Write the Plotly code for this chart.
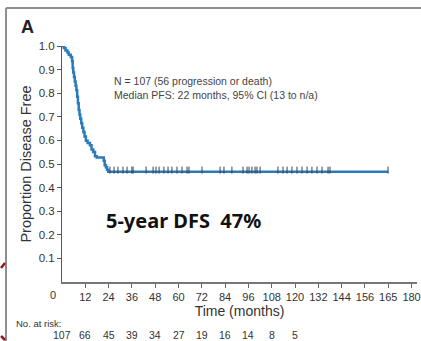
import plotly.graph_objects as go

# Kaplan-Meier curve (months, proportion disease free)
km_time = [0, 1.0, 1.8, 2.8, 3.5, 4.5, 5.2, 5.5, 5.8, 6.2, 6.6, 7.0, 7.4, 7.8, 8.2, 8.6, 9.0, 9.4,
           9.9, 10.4, 11.0, 11.6, 12.3, 13.2, 14.4, 15.2, 16.1, 17.0, 17.9, 21.5, 22.0, 22.6, 23.2,
           23.8, 168]
km_surv = [1.0, 0.991, 0.981, 0.972, 0.963, 0.953, 0.935, 0.907, 0.888, 0.869, 0.850, 0.832,
           0.813, 0.785, 0.757, 0.729, 0.710, 0.692, 0.673, 0.654, 0.636, 0.617, 0.598, 0.589,
           0.579, 0.561, 0.551, 0.533, 0.528, 0.514, 0.495, 0.486, 0.476, 0.467, 0.467]

censor_time = [24.7, 26.8, 28.8, 31.4, 33.5, 36.0, 36.6, 43.3, 46.9, 48.4, 50.0, 52.5, 54.6, 56.6,
               59.2, 61.8, 64.4, 65.4, 72.1, 81.4, 83.4, 87.5, 93.2, 95.3, 96.3, 97.8, 99.4, 100.4,
               102.0, 111.2, 113.8, 115.9, 118.4, 121.0, 123.6, 126.2, 128.7, 131.3, 133.9, 137.0,
               138.0, 167.9]
censor_surv = 0.467

x_tick_vals = [12, 24, 36, 48, 60, 72, 84, 96, 108, 120, 132, 144, 156, 168, 180]
x_tick_text = ["12", "24", "36", "48", "60", "72", "84", "96", "108", "120", "132", "144",
               "156", "165", "180"]
y_tick_vals = [0.1, 0.2, 0.3, 0.4, 0.5, 0.6, 0.7, 0.8, 0.9, 1.0]

risk_months = [0, 12, 24, 36, 48, 60, 72, 84, 96, 108, 120]
risk_counts = [107, 66, 45, 39, 34, 27, 19, 16, 14, 8, 5]

narrow = "Liberation Sans Narrow, Arial Narrow, Liberation Sans, Arial"
blue = "#2b7bba"

# plot area in pixels
L, R, T, B = 62, 417, 46, 282
PW, PH = R - L, B - T


def px(xp):
    return (xp - L) / PW


def py(yp):
    return (B - yp) / PH


fig = go.Figure()
fig.add_trace(go.Scatter(x=km_time, y=km_surv, mode="lines", line=dict(color=blue, width=2.5, shape="hv"),
                         hoverinfo="skip", showlegend=False, cliponaxis=False))
fig.add_trace(go.Scatter(x=censor_time, y=[censor_surv + 0.007] * len(censor_time), mode="markers",
                         marker=dict(symbol="line-ns", size=5, line=dict(color="#334455", width=1)),
                         hoverinfo="skip", showlegend=False, cliponaxis=False))

fig.update_layout(
    width=421, height=341,
    margin=dict(l=L, r=421 - R, t=T, b=341 - B, autoexpand=False),
    paper_bgcolor="white", plot_bgcolor="white",
    font=dict(family=narrow, color="#333333"),
    xaxis=dict(range=[0, 182.8], tickvals=x_tick_vals, ticktext=x_tick_text, ticks="outside",
               ticklen=4, tickcolor="#666", showline=True, linecolor="#777", linewidth=1.5,
               showgrid=False, zeroline=False, tickfont=dict(size=11, family=narrow, color="#333"),
               title=dict(text="Time (months)", font=dict(size=14, family=narrow, color="#333"),
                          standoff=4)),
    yaxis=dict(range=[0, 1.0], tickvals=y_tick_vals, tickformat=".1f", ticks="outside",
               ticklen=4, tickcolor="#555", showline=True, linecolor="#555", linewidth=1,
               showgrid=False, zeroline=False, tickfont=dict(size=11.5, family=narrow, color="#333"),
               title=dict(text="Proportion Disease Free",
                          font=dict(size=14.5, family=narrow, color="#333"), standoff=3)),
)

annotations = [
    dict(x=0, y=-0.02, xref="x", yref="paper", text="0", showarrow=False, xanchor="center",
         yanchor="top", xshift=-9, font=dict(size=11, family=narrow, color="#333")),
    dict(x=px(27), y=py(27), xref="paper", yref="paper", text="<b>A</b>", showarrow=False,
         xanchor="center", yanchor="middle", font=dict(size=18, family="Liberation Sans, Arial", color="#222")),
    dict(x=px(112), y=py(88), xref="paper", yref="paper", xanchor="left", yanchor="middle",
         showarrow=False, align="left",
         text="N = 107 (56 progression or death)<br>Median PFS: 22 months, 95% CI (13 to n/a)",
         font=dict(size=10.5, family="Liberation Sans, Arial", color="#444")),
    dict(x=px(104), y=py(220), xref="paper", yref="paper", xanchor="left", yanchor="middle",
         showarrow=False, text="<b>5-year DFS  47%</b>",
         font=dict(size=20, family="Noto Sans, Open Sans", color="#111")),
    dict(x=px(14), y=py(323), xref="paper", yref="paper", xanchor="left", yanchor="middle",
         showarrow=False, text="No. at risk:", font=dict(size=9.5, family=narrow, color="#333")),
]
for m, c in zip(risk_months, risk_counts):
    annotations.append(dict(x=m, y=py(335), xref="x", yref="paper", text=str(c),
                            showarrow=False, xanchor="center", yanchor="middle",
                            font=dict(size=10.5, family=narrow, color="#333")))
fig.update_layout(annotations=annotations)

# frame border lines (top and left) from the cropped figure
fig.add_shape(type="line", xref="paper", yref="paper", x0=px(6), x1=px(421),
              y0=py(8), y1=py(8), line=dict(color="#8f8f8f", width=2))
fig.add_shape(type="line", xref="paper", yref="paper", x0=px(6), x1=px(6),
              y0=py(8), y1=py(341), line=dict(color="#8f8f8f", width=2))
# small dark-red arrow fragments at the left edge
fig.add_shape(type="line", xref="paper", yref="paper", x0=px(1), x1=px(5),
              y0=py(268), y1=py(263), line=dict(color="#8b1a1a", width=2.5))
fig.add_shape(type="line", xref="paper", yref="paper", x0=px(1), x1=px(5),
              y0=py(336), y1=py(340), line=dict(color="#8b1a1a", width=2.5))

fig.write_html("out.html", config={"displayModeBar": False},
               post_script="document.body.style.margin='0';")
